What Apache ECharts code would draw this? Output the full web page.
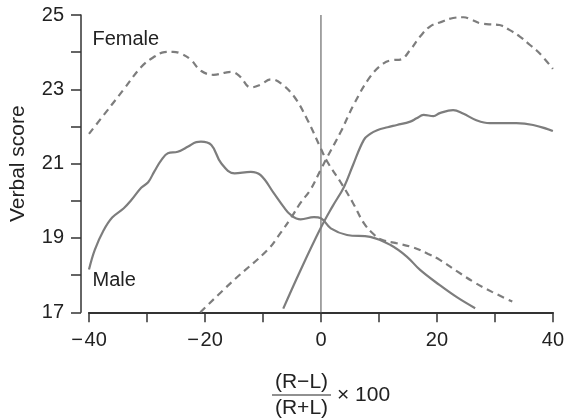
<!DOCTYPE html>
<html>
<head>
<meta charset="utf-8">
<script src="https://cdn.jsdelivr.net/npm/echarts@6/dist/echarts.min.js"></script>
<style>
html,body{margin:0;padding:0;background:#fff;}
#chart{width:567px;height:420px;}
</style>
</head>
<body>
<div id="chart"></div>
<script>
// ---- data ----
const femaleLeftX = [-40,-37,-34,-31,-29,-27,-25.5,-24,-22.4,-20.7,-18.5,-16.5,-15.5,-14,-12.1,-10.5,-8.6,-6.9,-4.6,-2.3,0,1.1,3.4,5.5,7.4,9.1,10.5,13,16,18.5,20.5,23.5,26.3,29.5,33];
const femaleLeftY = [21.8,22.4,23.0,23.6,23.85,24.0,24.01,23.95,23.79,23.5,23.39,23.45,23.47,23.35,23.05,23.12,23.27,23.16,22.8,22.17,21.4,21.05,20.5,19.95,19.4,19.1,18.95,18.86,18.74,18.57,18.41,18.1,17.82,17.55,17.29];

const femaleRightX = [-20.8,-15,-9.2,-6.9,-5.2,-3.5,-1.8,0,1,3.4,5.7,8.5,10.8,12.5,13.7,15.4,17.1,18.8,20.5,22.8,24.6,26,27.4,29,30.8,32.5,34.3,36,37.7,40];
const femaleRightY = [17.0,17.87,18.68,19.15,19.53,19.95,20.3,20.85,21.15,21.85,22.6,23.34,23.7,23.79,23.8,24.06,24.42,24.69,24.8,24.92,24.94,24.87,24.78,24.75,24.73,24.6,24.42,24.2,23.97,23.55];

const maleLeftX = [-40,-39,-37.5,-36,-34,-32.7,-31,-29.8,-28.7,-27.5,-26.4,-24.7,-22.9,-21.5,-20.7,-18.9,-17.2,-14.9,-12.1,-10.4,-8.1,-6.5,-5.2,-3.5,-1.2,0,1.7,4.5,8.5,12,14.8,17.1,20.5,23.5,26.6];
const maleLeftY = [18.15,18.68,19.2,19.55,19.8,20.02,20.35,20.5,20.8,21.1,21.28,21.32,21.46,21.58,21.59,21.5,21.01,20.74,20.78,20.69,20.2,19.85,19.62,19.5,19.56,19.53,19.26,19.08,19.03,18.81,18.5,18.14,17.73,17.4,17.11];

const maleRightX = [-6.5,-3.5,0,2,4,5.5,7.4,8.5,9.7,11.5,13.1,15.4,16.5,17.7,19.4,20.5,22.8,24.5,26.8,29.1,33.7,36.6,40];
const maleRightY = [17.1,18.14,19.28,19.85,20.38,20.95,21.64,21.8,21.9,21.98,22.04,22.13,22.22,22.31,22.28,22.36,22.44,22.35,22.17,22.09,22.09,22.04,21.88];

const zeroLineX = [0, 0];
const zeroLineY = [17, 25];

const xTickLabels = [-40, -20, 0, 20, 40];
const yTickLabels = [17, 19, 21, 23, 25];
const seriesLabels = ['Female', 'Male'];
const yAxisTitle = 'Verbal score';
const xTitleNum = '(R\u2212L)';
const xTitleDen = '(R+L)';
const xTitleMul = '\u00d7 100';

// ---- chart ----
const zip = (xs, ys) => xs.map((x, i) => [x, ys[i]]);
const FONT = '"Liberation Sans", Arial, Helvetica, sans-serif';
const curveColor = '#7d7d7d';

const chart = echarts.init(document.getElementById('chart'), null, {renderer: 'canvas'});

function curve(name, xs, ys, dashed) {
  return {
    name, type: 'line', data: zip(xs, ys), smooth: 0.4, symbol: 'none',
    lineStyle: {color: curveColor, width: 2.2, type: dashed ? [7, 5] : 'solid'},
    silent: true
  };
}

chart.setOption({
  animation: false,
  backgroundColor: '#fff',
  grid: {left: 87.3, right: 13.7, top: 15, bottom: 107.7},
  xAxis: {
    type: 'value', min: -40, max: 40, interval: 10,
    axisLine: {show: true, onZero: false, lineStyle: {color: '#333', width: 2}},
    axisTick: {show: true, inside: false, length: 10, lineStyle: {color: '#333', width: 1.5}},
    splitLine: {show: false},
    axisLabel: {
      margin: 18, color: '#222', fontFamily: FONT, fontSize: 20,
      formatter: v => xTickLabels.includes(v) ? (v < 0 ? '\u2212\u200a' + Math.abs(v) : String(v)) : ''
    }
  },
  yAxis: {
    type: 'value', min: 17, max: 25, interval: 1, offset: 8,
    name: yAxisTitle, nameLocation: 'middle', nameGap: 52,
    nameTextStyle: {color: '#222', fontFamily: FONT, fontSize: 21},
    axisLine: {show: true, onZero: false, lineStyle: {color: '#333', width: 1.5}},
    axisTick: {show: true, inside: false, length: 10, lineStyle: {color: '#333', width: 1.5}},
    splitLine: {show: false},
    axisLabel: {
      margin: 17, color: '#222', fontFamily: FONT, fontSize: 20,
      formatter: v => yTickLabels.includes(v) ? String(v) : ''
    }
  },
  series: [
    {
      name: 'zero', type: 'line', data: zip(zeroLineX, zeroLineY), symbol: 'none',
      lineStyle: {color: '#888', width: 1.5}, silent: true
    },
    curve('Female left', femaleLeftX, femaleLeftY, true),
    curve('Female right', femaleRightX, femaleRightY, true),
    curve('Male left', maleLeftX, maleLeftY, false),
    curve('Male right', maleRightX, maleRightY, false)
  ],
  graphic: [
    {type: 'text', x: 92.5, y: 29, style: {text: seriesLabels[0], font: '20px ' + FONT, fill: '#222', textVerticalAlign: 'top'}},
    {type: 'text', x: 92.5, y: 270, style: {text: seriesLabels[1], font: '20px ' + FONT, fill: '#222', textVerticalAlign: 'top'}},
    {type: 'text', x: 301.5, y: 382, style: {text: xTitleNum, font: '21px ' + FONT, fill: '#222', textAlign: 'center', textVerticalAlign: 'middle'}},
    {type: 'line', shape: {x1: 272, y1: 395, x2: 331, y2: 395}, style: {stroke: '#222', lineWidth: 1.2}},
    {type: 'text', x: 301.5, y: 408.5, style: {text: xTitleDen, font: '21px ' + FONT, fill: '#222', textAlign: 'center', textVerticalAlign: 'middle'}},
    {type: 'text', x: 337, y: 395, style: {text: xTitleMul, font: '21px ' + FONT, fill: '#222', textAlign: 'left', textVerticalAlign: 'middle'}}
  ]
});
</script>
</body>
</html>
